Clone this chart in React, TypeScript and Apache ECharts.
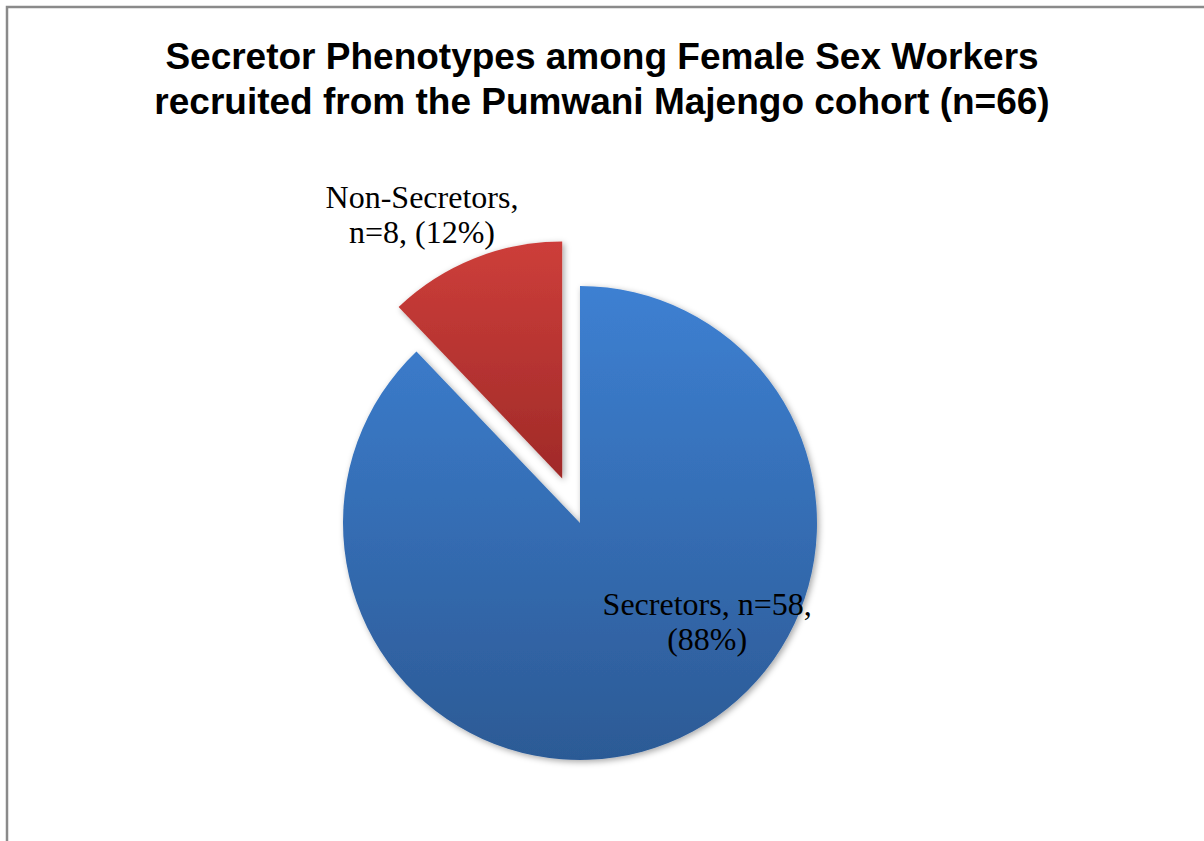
import React, { useEffect, useRef } from "react";
import * as echarts from "echarts";

const titleLines = [
  "Secretor Phenotypes among Female Sex Workers",
  "recruited from the Pumwani Majengo cohort (n=66)",
];
const categories = ["Secretors", "Non-Secretors"];
const counts = [58, 8];
const percents = [88, 12];

export default function App() {
  const ref = useRef<HTMLDivElement>(null);
  useEffect(() => {
    if (!ref.current) return;
    const chart = echarts.init(ref.current, null, { renderer: "svg" });
    const fills = [
      new echarts.graphic.LinearGradient(0, 0, 0, 1, [
        { offset: 0, color: "#3d80d2" },
        { offset: 1, color: "#2c5a95" },
      ]),
      new echarts.graphic.LinearGradient(0, 0, 0, 1, [
        { offset: 0, color: "#cd3e3a" },
        { offset: 1, color: "#a02a28" },
      ]),
    ];
    const labelOffsets = [
      [82, -14],
      [-95, -151],
    ];
    chart.setOption({
      animation: false,
      backgroundColor: "#ffffff",
      title: {
        text: titleLines.join("\n"),
        left: "center",
        top: 29,
        textStyle: {
          fontFamily: "Liberation Sans, Arial, sans-serif",
          fontWeight: "bold",
          fontSize: 37,
          lineHeight: 45,
          color: "#000000",
        },
      },
      graphic: [
        {
          type: "rect",
          shape: { x: 7, y: 7, width: 1215, height: 860 },
          style: { fill: "none", stroke: "#8a8a8a", lineWidth: 2.5 },
          silent: true,
        },
      ],
      series: [
        {
          type: "pie",
          center: [580, 523],
          radius: [0, 237],
          startAngle: 90,
          clockwise: true,
          selectedMode: "multiple",
          selectedOffset: 48,
          emphasis: { disabled: true },
          labelLine: { show: false },
          label: {
            show: true,
            position: "inside",
            formatter: (p: any) =>
              p.dataIndex === 0
                ? `${categories[0]}, n=${counts[0]},\n(${percents[0]}%)`
                : `${categories[1]},\nn=${counts[1]}, (${percents[1]}%)`,
            fontFamily: "Liberation Serif, Times New Roman, serif",
            fontSize: 32,
            lineHeight: 35,
            color: "#000000",
            align: "center",
          },
          data: categories.map((name, i) => ({
            name,
            value: counts[i],
            selected: i === 1,
            label: { offset: labelOffsets[i] },
            select: { label: { offset: labelOffsets[i] } },
            itemStyle: {
              color: fills[i],
              shadowBlur: 6,
              shadowColor: "rgba(0,0,0,0.35)",
              shadowOffsetX: 2,
              shadowOffsetY: 2,
            },
          })),
        },
      ],
    });
    return () => chart.dispose();
  }, []);
  return (
    <div
      ref={ref}
      style={{ position: "fixed", left: 0, top: 0, width: 1204, height: 841 }}
    />
  );
}
